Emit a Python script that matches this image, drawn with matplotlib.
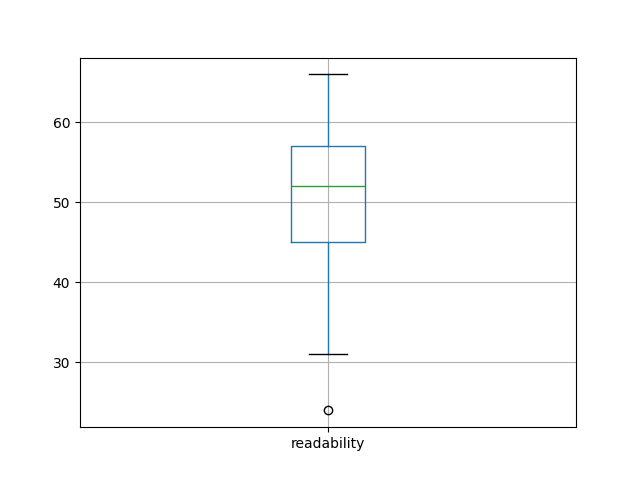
import matplotlib
matplotlib.use("Agg")
import matplotlib.pyplot as plt

labels = ["readability"]
q1 = [45]
median = [52]
q3 = [57]
whisker_low = [31]
whisker_high = [66]
fliers = [[24]]

stats = []
for i, lab in enumerate(labels):
    stats.append(dict(label=lab, q1=q1[i], med=median[i], q3=q3[i],
                      whislo=whisker_low[i], whishi=whisker_high[i],
                      fliers=fliers[i]))

fig, ax = plt.subplots(figsize=(6.4, 4.8), dpi=100)
ax.bxp(stats,
       boxprops=dict(color="C0"),
       whiskerprops=dict(color="C0"),
       medianprops=dict(color="C2"),
       capprops=dict(color="black"),
       flierprops=dict(marker="o", markeredgecolor="black", markerfacecolor="none"))
ax.grid(True)
fig.savefig("out.png")
